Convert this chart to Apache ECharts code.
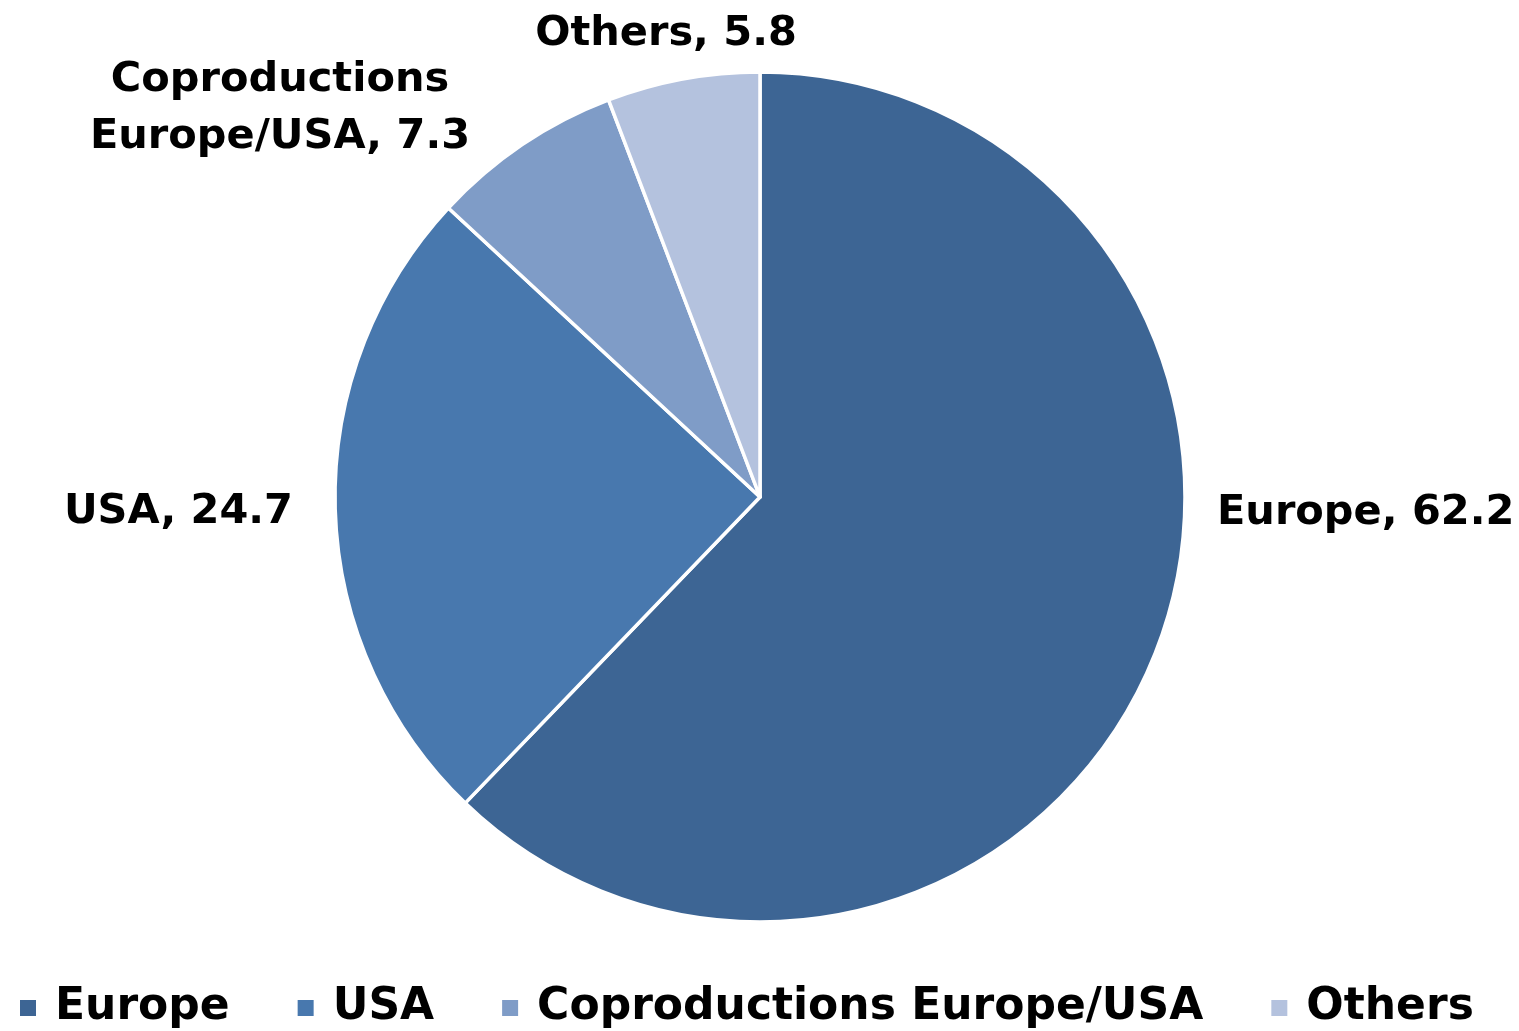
<!DOCTYPE html>
<html>
<head>
<meta charset="utf-8">
<script src="https://cdn.jsdelivr.net/npm/echarts@6/dist/echarts.min.js"></script>
<style>
  html, body { margin: 0; padding: 0; background: #fff; }
  #chart { width: 1519px; height: 1031px; }
</style>
</head>
<body>
<div id="chart"></div>
<script>
// Share of films by origin (%)
const categories = ['Europe', 'USA', 'Coproductions Europe/USA', 'Others'];
const shares = [62.2, 24.7, 7.3, 5.8];
const sliceColors = ['#3d6594', '#4878ae', '#7f9cc7', '#b4c2de'];

// Where each slice label sits, relative to the plot
const labelSpots = [
  { x: 1217, y: 513, align: 'left' },
  { x: 293, y: 512, align: 'right' },
  { x: 280, y: 109, align: 'center' },
  { x: 666, y: 34, align: 'center' }
];

const labelNames = ['Europe', 'USA', 'Coproductions\nEurope/USA', 'Others'];

const font = '"DejaVu Sans", sans-serif';

const chart = echarts.init(document.getElementById('chart'), null, { renderer: 'canvas' });

chart.setOption({
  animation: false,
  color: sliceColors,
  legend: {
    bottom: -4,
    left: 15,
    icon: 'rect',
    itemWidth: 16,
    itemHeight: 16,
    itemGap: 68,
    itemStyle: { borderWidth: 0, borderColor: 'transparent' },
    textStyle: {
      fontFamily: font,
      fontWeight: 'bold',
      fontSize: 44,
      color: '#000',
      padding: [0, 0, 0, 14]
    },
    data: categories
  },
  series: [{
    type: 'pie',
    center: [760, 497],
    radius: 425,
    startAngle: 90,
    clockwise: true,
    itemStyle: { borderColor: '#fff', borderWidth: 3.5 },
    label: {
      show: true,
      position: 'outside',
      fontFamily: font,
      fontWeight: 'bold',
      fontSize: 41.5,
      lineHeight: 57,
      color: '#000',
      formatter: p => labelNames[p.dataIndex] + ', ' + p.value
    },
    labelLine: { show: false },
    labelLayout: function (params) {
      const s = labelSpots[params.dataIndex];
      return { x: s.x, y: s.y, align: s.align, verticalAlign: 'middle' };
    },
    emphasis: { disabled: true },
    data: categories.map((c, i) => ({ name: c, value: shares[i] }))
  }]
});
</script>
</body>
</html>
